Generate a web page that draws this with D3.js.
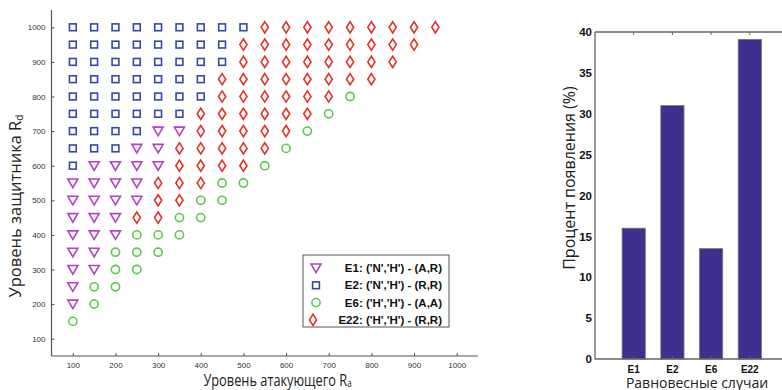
<!DOCTYPE html>
<html>
<head>
<meta charset="utf-8">
<script src="https://cdn.jsdelivr.net/npm/d3@7"></script>
<style>
  html, body { margin: 0; padding: 0; background: #fff; }
  svg { display: block; }
</style>
</head>
<body>
<svg id="chart" width="782" height="390"></svg>
<script>
// Equilibrium outcomes on the (attacker level Ra, defender level Rd) grid.
// Each row: [Rd, [Ra values]]
const e1Rows = [
  [700, [300, 350]],
  [650, [250, 300]],
  [600, [150, 200, 250, 300]],
  [550, [100, 150, 200, 250]],
  [500, [100, 150, 200, 250]],
  [450, [100, 150, 200]],
  [400, [100, 150, 200]],
  [350, [100, 150]],
  [300, [100, 150]],
  [250, [100]],
  [200, [100]]
];
const e2Rows = [
  [1000, [100, 150, 200, 250, 300, 350, 400, 450, 500]],
  [950, [100, 150, 200, 250, 300, 350, 400, 450]],
  [900, [100, 150, 200, 250, 300, 350, 400, 450]],
  [850, [100, 150, 200, 250, 300, 350, 400]],
  [800, [100, 150, 200, 250, 300, 350, 400]],
  [750, [100, 150, 200, 250, 300, 350]],
  [700, [100, 150, 200, 250]],
  [650, [100, 150, 200]],
  [600, [100]]
];
const e6Rows = [
  [800, [750]],
  [750, [700]],
  [700, [650]],
  [650, [600]],
  [600, [550]],
  [550, [450, 500]],
  [500, [400, 450]],
  [450, [350, 400]],
  [400, [250, 300, 350]],
  [350, [200, 250, 300]],
  [300, [200, 250]],
  [250, [150, 200]],
  [200, [150]],
  [150, [100]]
];
const e22Rows = [
  [1000, [550, 600, 650, 700, 750, 800, 850, 900, 950]],
  [950, [500, 550, 600, 650, 700, 750, 800, 850, 900]],
  [900, [500, 550, 600, 650, 700, 750, 800, 850]],
  [850, [450, 500, 550, 600, 650, 700, 750, 800]],
  [800, [450, 500, 550, 600, 650, 700]],
  [750, [400, 450, 500, 550, 600, 650]],
  [700, [400, 450, 500, 550, 600]],
  [650, [350, 400, 450, 500, 550]],
  [600, [350, 400, 450, 500]],
  [550, [300, 350, 400]],
  [500, [300, 350]],
  [450, [250, 300]]
];

const gridTicks = [100, 200, 300, 400, 500, 600, 700, 800, 900, 1000];

const legendLabels = [
  "E1: ('N','H') - (A,R)",
  "E2: ('N','H') - (R,R)",
  "E6: ('H','H') - (A,A)",
  "E22: ('H','H') - (R,R)"
];

// Share of each equilibrium over the grid, percent
const caseNames = ["E1", "E2", "E6", "E22"];
const caseShares = [16.0, 31.0, 13.5, 39.1];
const shareTicks = [0, 5, 10, 15, 20, 25, 30, 35, 40];

const svg = d3.select("#chart");
const tickFont = "'Liberation Sans', Arial, sans-serif";
const titleFont = "'Open Sans', 'Noto Sans', sans-serif";

const series = [
  { key: "E1", rows: e1Rows, shape: "tri", color: "#b443c4" },
  { key: "E2", rows: e2Rows, shape: "square", color: "#3546ad" },
  { key: "E6", rows: e6Rows, shape: "circle", color: "#5cc94c" },
  { key: "E22", rows: e22Rows, shape: "diamond", color: "#e3342a" }
];

// ---------- Left: scatter grid ----------
const x = d3.scaleLinear().domain([50, 1050]).range([51.5, 478]);
const y = d3.scaleLinear().domain([50, 1050]).range([356, 10]);

const left = svg.append("g");

function drawMarker(g, shape, color) {
  const sw = 1.6;
  if (shape === "square") {
    g.append("rect").attr("x", -3.4).attr("y", -3.4).attr("width", 6.8).attr("height", 6.8)
      .attr("fill", "none").attr("stroke", color).attr("stroke-width", sw);
  } else if (shape === "circle") {
    g.append("circle").attr("r", 4.1)
      .attr("fill", "none").attr("stroke", color).attr("stroke-width", sw);
  } else if (shape === "tri") {
    g.append("path").attr("d", "M-5,-4L5,-4L0,4.6Z")
      .attr("fill", "none").attr("stroke", color).attr("stroke-width", sw).attr("stroke-linejoin", "miter");
  } else {
    g.append("path").attr("d", "M0,-5.6L3.6,0L0,5.6L-3.6,0Z")
      .attr("fill", "none").attr("stroke", color).attr("stroke-width", sw);
  }
}

series.forEach(s => {
  const pts = [];
  s.rows.forEach(([rd, ras]) => ras.forEach(ra => pts.push([ra, rd])));
  left.append("g").selectAll("g").data(pts).join("g")
    .attr("transform", d => `translate(${x(d[0])},${y(d[1])})`)
    .each(function () { drawMarker(d3.select(this), s.shape, s.color); });
});

// axes
const xAxis = d3.axisBottom(x).tickValues(gridTicks).tickSize(-3).tickPadding(6.5).tickFormat(d3.format("d"));
const gx = left.append("g").attr("transform", "translate(0,356)").call(xAxis);
const yAxis = d3.axisLeft(y).tickValues(gridTicks).tickSize(-3).tickPadding(6).tickFormat(d3.format("d"));
const gy = left.append("g").attr("transform", "translate(51.5,0)").call(yAxis);
[gx, gy].forEach(g => {
  g.select(".domain").attr("stroke", "#555").attr("stroke-width", 1.2);
  g.selectAll(".tick line").attr("stroke", "#555");
  g.selectAll(".tick text").attr("fill", "#333").style("font-family", tickFont).style("font-size", "8px");
});
gy.select(".domain").attr("d", "M0,356V10");
gx.select(".domain").attr("d", "M51.5,0H478");

// axis titles
const yt = left.append("text")
  .attr("transform", "translate(21,206) rotate(-90)")
  .attr("text-anchor", "middle")
  .style("font-family", titleFont).style("font-size", "16.5px").attr("fill", "#222");
yt.append("tspan").text("Уровень защитника R");
yt.append("tspan").attr("dy", 2).style("font-size", "10px").text("d");

const xt = left.append("text")
  .attr("transform", "translate(277.5,385.5) scale(0.8,1)")
  .attr("text-anchor", "middle")
  .style("font-family", titleFont).style("font-size", "16px").attr("fill", "#222");
xt.append("tspan").text("Уровень атакующего R");
xt.append("tspan").attr("dy", 1).style("font-size", "10px").text("a");

// legend
const lg = left.append("g");
lg.append("rect").attr("x", 303).attr("y", 255).attr("width", 146).attr("height", 72)
  .attr("fill", "#fff").attr("stroke", "#555").attr("stroke-width", 1);
series.forEach((s, i) => {
  const cy = 268 + i * 17.3;
  const mk = lg.append("g").attr("transform", `translate(${i === 3 ? 313 : 316},${cy})`);
  drawMarker(mk, s.shape, s.color);
  lg.append("text").attr("x", 442).attr("y", cy).attr("dy", "0.36em")
    .attr("text-anchor", "end")
    .style("font-family", tickFont).style("font-weight", "bold").style("font-size", "11.5px")
    .attr("fill", "#111").text(legendLabels[i]);
});

// ---------- Right: bar chart ----------
const bx = d3.scaleLinear().domain([0, 5]).range([595, 788.5]);
const by = d3.scaleLinear().domain([0, 40]).range([359, 32]);
const right = svg.append("g");
const barW = (bx(1) - bx(0)) * 0.6;

right.selectAll("rect.bar").data(caseShares).join("rect")
  .attr("class", "bar")
  .attr("x", (d, i) => bx(i + 1) - barW / 2)
  .attr("width", barW)
  .attr("y", d => by(d))
  .attr("height", d => by(0) - by(d))
  .attr("fill", "#3f2f8e").attr("stroke", "#777").attr("stroke-width", 0.8);

// frame lines
right.append("path").attr("d", `M595,32H782M595,32V359M595,359H782`)
  .attr("fill", "none").attr("stroke", "#666").attr("stroke-width", 1.3);
// ticks at categories on top and bottom edges
right.selectAll("line.tt").data(caseNames).join("line")
  .attr("x1", (d, i) => bx(i + 1)).attr("x2", (d, i) => bx(i + 1))
  .attr("y1", 32).attr("y2", 35).attr("stroke", "#666");
right.selectAll("line.bt").data(caseNames).join("line")
  .attr("x1", (d, i) => bx(i + 1)).attr("x2", (d, i) => bx(i + 1))
  .attr("y1", 359).attr("y2", 356).attr("stroke", "#666");

// y tick labels
right.selectAll("text.yl").data(shareTicks).join("text")
  .attr("x", 592).attr("y", d => by(d)).attr("dy", "0.36em")
  .attr("text-anchor", "end")
  .style("font-family", tickFont).style("font-weight", "bold").style("font-size", "11.5px")
  .attr("fill", "#111").text(d => d);

// category labels
right.selectAll("text.xl").data(caseNames).join("text")
  .attr("x", (d, i) => bx(i + 1)).attr("y", 369).attr("dy", "0.36em")
  .attr("text-anchor", "middle")
  .style("font-family", tickFont).style("font-weight", "bold").style("font-size", "10px")
  .attr("fill", "#111").text(d => d);

right.append("text")
  .attr("x", 697).attr("y", 387.5)
  .attr("text-anchor", "middle")
  .style("font-family", titleFont).style("font-size", "14px").attr("fill", "#222")
  .text("Равновесные случаи");

right.append("text")
  .attr("transform", "translate(575,178) rotate(-90)")
  .attr("text-anchor", "middle")
  .style("font-family", titleFont).style("font-size", "16px").attr("fill", "#222")
  .text("Процент появления (%)");
</script>
</body>
</html>
